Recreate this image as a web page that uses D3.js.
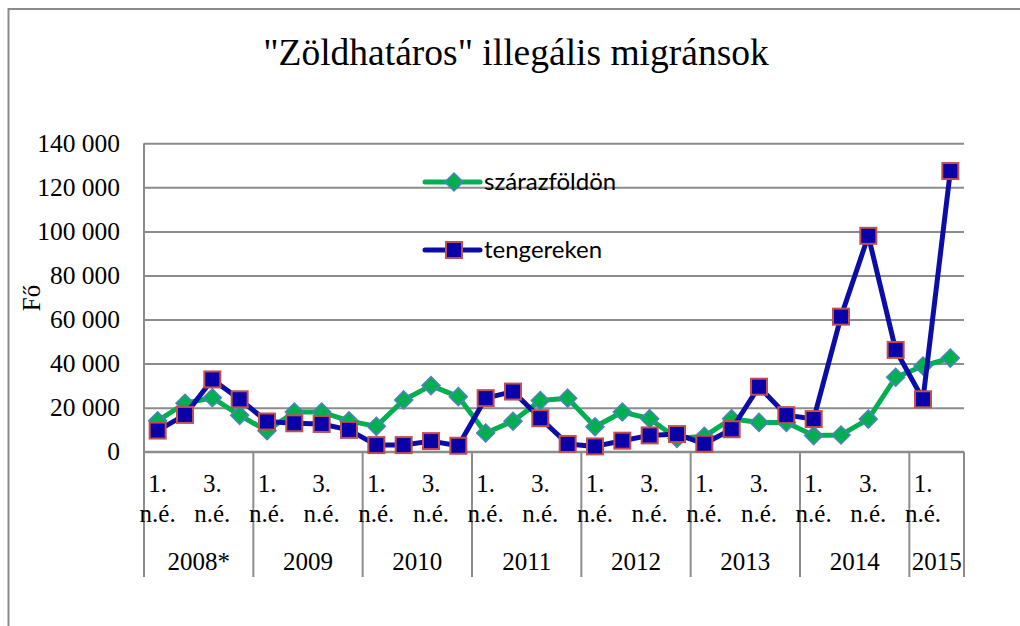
<!DOCTYPE html>
<html>
<head>
<meta charset="utf-8">
<script src="https://cdn.jsdelivr.net/npm/d3@7"></script>
<style>
  body { margin: 0; background: #fff; }
  svg text { fill: #000; }
</style>
</head>
<body>
<div id="chart"></div>
<script>
//Data
var years = ["2008*", "2009", "2010", "2011", "2012", "2013", "2014", "2015"];
var quartersPerYear = [4, 4, 4, 4, 4, 4, 4, 2];
var quarterLabels = ["1. n.é.", "2. n.é.", "3. n.é.", "4. n.é."];

var szarazfoldon = [14000, 22000, 24500, 16500, 9500, 18000, 18000, 14000, 11500, 23500,
                    30000, 25000, 8500, 13800, 23200, 24300, 11300, 18000, 15000, 6000,
                    7000, 15000, 13300, 13300, 7300, 7600, 14800, 33800, 38900, 42500];
var tengereken = [9600, 16700, 32800, 23800, 13700, 12900, 12600, 9900, 3000, 3000,
                  4800, 2700, 24300, 27300, 15200, 3500, 2400, 5000, 7400, 8000,
                  3600, 10200, 29500, 16600, 14800, 61300, 98000, 46200, 23800, 127400];
var yTicks = [0, 20000, 40000, 60000, 80000, 100000, 120000, 140000];

//Build the category list (one entry per quarter)
var categories = [];
years.forEach(function(y, yi) {
  for (var q = 0; q < quartersPerYear[yi]; q++) {
    categories.push({ year: y, yearIndex: yi, q: q, label: quarterLabels[q] });
  }
});

var width = 1020, height = 626;
var plot = { left: 144, right: 964, top: 143.3, bottom: 451.7 };
var serif = "'Liberation Serif', 'Times New Roman', serif";

var svg = d3.select("#chart").append("svg")
            .attr("width", width)
            .attr("height", height);

//Chart area border
svg.append("rect")
   .attr("x", 8.5).attr("y", 9)
   .attr("width", 1030).attr("height", 640)
   .attr("fill", "none")
   .attr("stroke", "#8c8c8c")
   .attr("stroke-width", 2);

//Scales
var x = d3.scaleBand()
          .domain(d3.range(categories.length))
          .range([plot.left, plot.right])
          .padding(0);

var y = d3.scaleLinear()
          .domain([0, 140000])
          .range([plot.bottom, plot.top]);

var numberFormat = function(d) { return d3.format(",d")(d).replace(/,/g, " "); };

//Title
svg.append("text")
   .attr("x", 516).attr("y", 65)
   .attr("text-anchor", "middle")
   .style("font-family", serif)
   .style("font-size", "37.5px")
   .text("\"Zöldhatáros\" illegális migránsok");

//Gridlines + y axis
var yAxis = d3.axisLeft(y)
              .tickValues(yTicks)
              .tickSize(-(plot.right - plot.left))
              .tickPadding(24)
              .tickFormat(numberFormat);

var gy = svg.append("g")
            .attr("transform", "translate(" + plot.left + ",0)")
            .call(yAxis);
gy.select(".domain").remove();
gy.selectAll(".tick line").attr("stroke", "#8c8c8c").attr("stroke-width", 2);
gy.selectAll(".tick text")
  .style("font-family", serif)
  .style("font-size", "25.5px");

//Axis line
svg.append("line")
   .attr("x1", plot.left).attr("x2", plot.left)
   .attr("y1", plot.top).attr("y2", 577)
   .attr("stroke", "#8c8c8c").attr("stroke-width", 2);

//Y axis title
svg.append("text")
   .attr("transform", "translate(40,298) rotate(-90)")
   .attr("text-anchor", "middle")
   .style("font-family", serif)
   .style("font-size", "25px")
   .text("Fő");

//Multi-level category axis
var xg = svg.append("g").attr("class", "x-axis");
var yearStart = 0;
years.forEach(function(yr, yi) {
  var n = quartersPerYear[yi];
  var x0 = x(yearStart), x1 = x(yearStart + n - 1) + x.bandwidth();
  xg.append("line")
    .attr("x1", x1).attr("x2", x1)
    .attr("y1", plot.bottom).attr("y2", 577)
    .attr("stroke", "#8c8c8c").attr("stroke-width", 2);
  xg.append("text")
    .attr("x", (x0 + x1) / 2).attr("y", 570)
    .attr("text-anchor", "middle")
    .style("font-family", serif)
    .style("font-size", "25px")
    .text(yr);
  yearStart += n;
});

//Only every second quarter label fits
categories.forEach(function(c, i) {
  if (c.q % 2 !== 0) return;
  var parts = c.label.split(" ");
  var t = xg.append("text")
            .attr("text-anchor", "middle")
            .style("font-family", serif)
            .style("font-size", "25px");
  t.append("tspan").attr("x", x(i) + x.bandwidth() / 2).attr("y", 492).text(parts[0]);
  t.append("tspan").attr("x", x(i) + x.bandwidth() / 2).attr("y", 522).text(parts[1]);
});

xg.append("line")
  .attr("x1", plot.left).attr("x2", plot.right)
  .attr("y1", plot.bottom).attr("y2", plot.bottom)
  .attr("stroke", "#8c8c8c").attr("stroke-width", 2);

//Series
var cx = function(d, i) { return x(i) + x.bandwidth() / 2; };
var line = d3.line().x(cx).y(function(d) { return y(d); });

var greenColor = "#00b050", blueColor = "#0c0ca6";

svg.append("path")
   .datum(szarazfoldon)
   .attr("d", line)
   .attr("fill", "none")
   .attr("stroke", greenColor)
   .attr("stroke-width", 5)
   .attr("stroke-linejoin", "round");

var diamond = "M0,-9L9,0L0,9L-9,0Z";
svg.selectAll(".diamond")
   .data(szarazfoldon)
   .enter().append("path")
   .attr("class", "diamond")
   .attr("d", diamond)
   .attr("transform", function(d, i) { return "translate(" + cx(d, i) + "," + y(d) + ")"; })
   .attr("fill", greenColor)
   .attr("stroke", "#4f81bd")
   .attr("stroke-width", 1.5);

svg.append("path")
   .datum(tengereken)
   .attr("d", line)
   .attr("fill", "none")
   .attr("stroke", blueColor)
   .attr("stroke-width", 5)
   .attr("stroke-linejoin", "round");

svg.selectAll(".square")
   .data(tengereken)
   .enter().append("rect")
   .attr("class", "square")
   .attr("x", function(d, i) { return cx(d, i) - 8; })
   .attr("y", function(d) { return y(d) - 8; })
   .attr("width", 16).attr("height", 16)
   .attr("fill", "#0a00a8")
   .attr("stroke", "#c0504d")
   .attr("stroke-width", 2);

//Legend
var legend = svg.append("g");
var legendItems = [
  { name: "szárazföldön", color: greenColor, y: 182, type: "diamond" },
  { name: "tengereken", color: blueColor, y: 250, type: "square" }
];
legendItems.forEach(function(it) {
  legend.append("line")
        .attr("x1", 425).attr("x2", 480)
        .attr("y1", it.y).attr("y2", it.y)
        .attr("stroke", it.color).attr("stroke-width", 5)
        .attr("stroke-linecap", "round");
  if (it.type === "diamond") {
    legend.append("path")
          .attr("d", diamond)
          .attr("transform", "translate(454," + it.y + ")")
          .attr("fill", greenColor)
          .attr("stroke", "#4f81bd")
          .attr("stroke-width", 1.5);
  } else {
    legend.append("rect")
          .attr("x", 446).attr("y", it.y - 8)
          .attr("width", 16).attr("height", 16)
          .attr("fill", "#0a00a8")
          .attr("stroke", "#c0504d")
          .attr("stroke-width", 2);
  }
  legend.append("text")
        .attr("x", 484).attr("y", it.y)
        .attr("dy", "0.35em")
        .style("font-family", "Lato, 'Open Sans', sans-serif")
        .style("font-size", "24px")
        .text(it.name);
});
</script>
</body>
</html>
